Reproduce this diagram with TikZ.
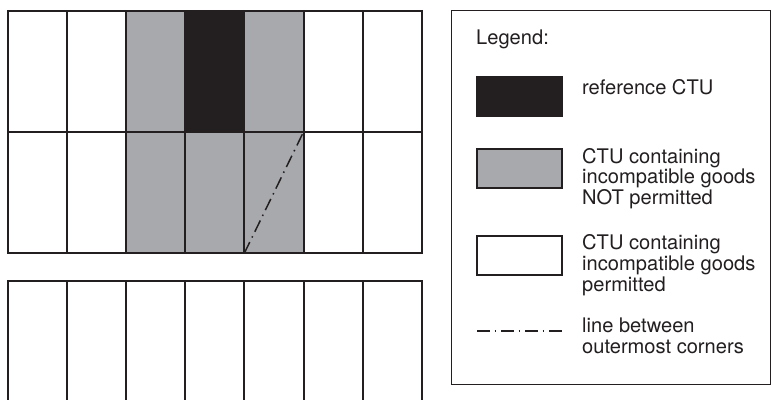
\documentclass[tikz,border=0pt]{standalone}
\usepackage{fontspec}
\setmainfont{TeX Gyre Heros}
\definecolor{ctugray}{HTML}{A7A9AC}
\definecolor{ctublack}{HTML}{231F20}
\tikzset{
  cell/.style={draw=ctublack, line width=2pt, minimum width=59.2pt, minimum height=121.4pt,
    inner sep=0pt, outer sep=0pt, anchor=north west},
  lowcell/.style={cell, minimum height=140pt},
  swatch/.style={draw=ctublack, line width=2pt, minimum width=85pt, minimum height=39pt,
    inner sep=0pt, outer sep=0pt, anchor=north west},
  legtext/.style={anchor=base west, inner sep=0pt, align=left, text=ctublack,
    font=\fontsize{20.1}{20.6}\selectfont},
  dashdot/.style={draw=ctublack, line width=1.5pt, dash pattern=on 12.5pt off 5pt on 1.5pt off 5pt}
}
\begin{document}
\begin{tikzpicture}[x=1pt,y=-1pt]
\clip (0,0) rectangle (771,399);
\fill[white] (0,0) rectangle (771,399);
% upper block, two rows
\foreach \i/\fa/\fb in {1/white/white,2/white/white,3/ctugray/ctugray,4/ctublack/ctugray,5/ctugray/ctugray,6/white/white,7/white/white}{
  \node[cell, fill=\fa] (r1c\i) at ({7.5+(\i-1)*59.2},10.5) {};
  \node[cell, fill=\fb] (r2c\i) at ({7.5+(\i-1)*59.2},131.9) {};
}
% lower block (cut off at bottom)
\foreach \i in {1,...,7}{
  \node[lowcell, fill=white] (r3c\i) at ({7.5+(\i-1)*59.2},280.5) {};
}
% line between outermost corners
\draw[dashdot] (r2c5.south west) -- (r2c5.north east);
% legend
\node[draw=ctublack, line width=1.3pt, minimum width=319.5pt, minimum height=373.5pt,
  inner sep=0pt, outer sep=0pt, anchor=north west] (legend) at (451.2,10.7) {};
\node[legtext, font=\fontsize{20.1}{21}\selectfont] (legtitle) at (476,44) {Legend:};
\node[swatch, fill=ctublack] (swblack) at (477,77) {};
\node[legtext] (txblack) at (582,94) {reference CTU};
\node[swatch, fill=ctugray] (swgray) at (477,149) {};
\node[legtext] (txgray) at (582,204.5) {CTU containing\\incompatible goods\\NOT permitted};
\node[swatch, fill=white] (swwhite) at (477,235.5) {};
\node[legtext] (txwhite) at (582,291) {CTU containing\\incompatible goods\\permitted};
\coordinate (la) at (477,331);
\coordinate (lb) at (562,331);
\draw[dashdot] (la) -- (lb);
\node[legtext] (txline) at (582,353) {line between\\outermost corners};
\end{tikzpicture}
\end{document}
